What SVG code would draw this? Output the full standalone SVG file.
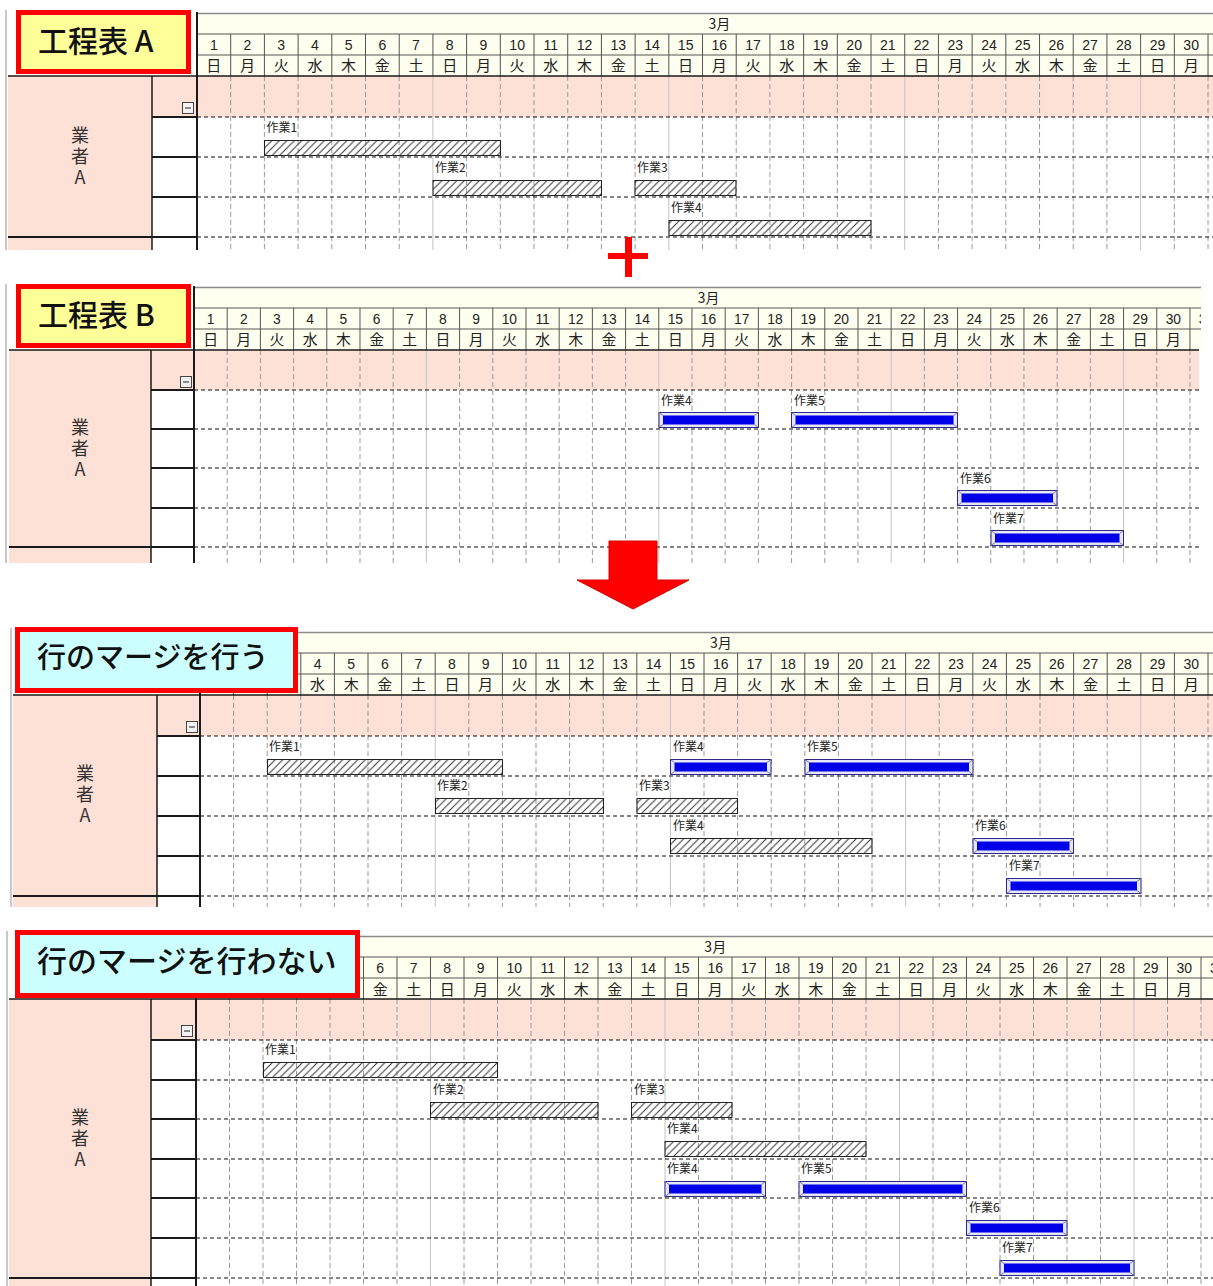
<svg xmlns="http://www.w3.org/2000/svg" width="1213" height="1286" viewBox="0 0 1213 1286">
<style>
.ttl{font-family:"Noto Sans CJK JP","Noto Sans",sans-serif;fill:#111;font-weight:500}
.tby{fill:#ffff99;stroke:#ff0000;stroke-width:5}
.tbc{fill:#ccffff;stroke:#ff0000;stroke-width:5}
.pk{fill:#fde0d6}
.dn{font-family:"Liberation Sans","Noto Sans CJK JP",sans-serif;font-size:14px;fill:#222;text-anchor:middle}
.mo{font-family:"Noto Sans CJK JP",sans-serif;font-size:14px;fill:#222;text-anchor:middle}
.wd{font-family:"Noto Sans CJK JP",sans-serif;font-size:15px;fill:#222;text-anchor:middle}
.lb{font-family:"Noto Sans CJK JP",sans-serif;font-size:12px;fill:#222}
.vn{font-family:"Noto Sans CJK JP",sans-serif;font-size:18px;fill:#333;writing-mode:vertical-rl;text-orientation:upright;letter-spacing:3px;text-anchor:start}
.rd{fill:none;stroke:#111;stroke-width:1.2;stroke-dasharray:4 3}
.sk{fill:none;stroke:#1a1a1a;stroke-width:2}
.tk{fill:none;stroke:#1a1a1a;stroke-width:1.5}
.gb{fill:none;stroke:#c8c8c8;stroke-width:2}
.hat{fill:url(#hatch);stroke:#222;stroke-width:1}
.bo{fill:#e6e6f6;stroke:#2b2b86;stroke-width:1}
.bi{fill:#0000e8}
.bv{fill:none;stroke:#5c5ca8;stroke-width:0.8}
</style>
<defs>
<pattern id="hatch" patternUnits="userSpaceOnUse" width="7.5" height="7.5">
<path d="M-1 1L1-1M0 7.5L7.5 0M6.5 8.5L8.5 6.5" stroke="#333" stroke-width="1"/>
</pattern>
<g id="hdrbg">
<rect width="1040" height="63" fill="#fffff0"/>
<path d="M0 0.5H1040" stroke="#8a8a8a" stroke-width="1.5"/>
<path d="M0 21H1040M0 42H1040" stroke="#555"/>
<path d="M33.5 21V63M67 21V63M100.5 21V63M134 21V63M167.5 21V63M201 21V63M234.5 21V63M268 21V63M301.5 21V63M335 21V63M368.5 21V63M402 21V63M435.5 21V63M469 21V63M502.5 21V63M536 21V63M569.5 21V63M603 21V63M636.5 21V63M670 21V63M703.5 21V63M737 21V63M770.5 21V63M804 21V63M837.5 21V63M871 21V63M904.5 21V63M938 21V63M971.5 21V63M1005 21V63M1038.5 21V63" stroke="#555"/>
</g>
<g id="vg">
<path d="M33.5 0V290M67 0V290M100.5 0V290M134 0V290M167.5 0V290M201 0V290M268 0V290M301.5 0V290M335 0V290M368.5 0V290M402 0V290M435.5 0V290M502.5 0V290M536 0V290M569.5 0V290M603 0V290M636.5 0V290M670 0V290M737 0V290M770.5 0V290M804 0V290M837.5 0V290M871 0V290M904.5 0V290M971.5 0V290M1005 0V290M1038.5 0V290" stroke="#9a9a9a" stroke-dasharray="5 3"/>
<path d="M234.5 0V290M469 0V290M703.5 0V290M938 0V290" stroke="#c4c4c4"/>
</g>
<g id="tog"><rect x="0.5" y="0.5" width="11" height="11" fill="#f2f2f2" stroke="#444"/><path d="M3 6H9" stroke="#222"/></g>
<clipPath id="cA"><rect x="197" y="76" width="1016" height="174"/></clipPath>
<clipPath id="cB"><rect x="194" y="350" width="1005" height="213"/></clipPath>
<clipPath id="cBh"><rect x="194" y="280" width="1007" height="80"/></clipPath>
<clipPath id="cC"><rect x="200" y="695" width="1013" height="212"/></clipPath>
</defs>

<g id="chartA">
<path class="gb" d="M6 10V250"/>
<rect class="pk" x="8" y="76" width="144" height="174"/>
<rect class="pk" x="152" y="76" width="1061" height="41"/>
<g transform="translate(197 13) scale(1.006 1)">
<use href="#hdrbg"/>
<text class="mo" x="519.25" y="16">3月</text>
<text class="dn" y="37"><tspan x="16.75">1</tspan><tspan x="50.25">2</tspan><tspan x="83.75">3</tspan><tspan x="117.25">4</tspan><tspan x="150.75">5</tspan><tspan x="184.25">6</tspan><tspan x="217.75">7</tspan><tspan x="251.25">8</tspan><tspan x="284.75">9</tspan><tspan x="318.25">10</tspan><tspan x="351.75">11</tspan><tspan x="385.25">12</tspan><tspan x="418.75">13</tspan><tspan x="452.25">14</tspan><tspan x="485.75">15</tspan><tspan x="519.25">16</tspan><tspan x="552.75">17</tspan><tspan x="586.25">18</tspan><tspan x="619.75">19</tspan><tspan x="653.25">20</tspan><tspan x="686.75">21</tspan><tspan x="720.25">22</tspan><tspan x="753.75">23</tspan><tspan x="787.25">24</tspan><tspan x="820.75">25</tspan><tspan x="854.25">26</tspan><tspan x="887.75">27</tspan><tspan x="921.25">28</tspan><tspan x="954.75">29</tspan><tspan x="988.25">30</tspan></text>
<text class="wd" y="58.5" x="16.75 50.25 83.75 117.25 150.75 184.25 217.75 251.25 284.75 318.25 351.75 385.25 418.75 452.25 485.75 519.25 552.75 586.25 619.75 653.25 686.75 720.25 753.75 787.25 820.75 854.25 887.75 921.25 954.75 988.25">日月火水木金土日月火水木金土日月火水木金土日月火水木金土日月</text>
</g>
<g clip-path="url(#cA)"><use href="#vg" transform="translate(197 76) scale(1.006 1)"/></g>
<path class="rd" d="M197 117H1213M197 157H1213M197 197H1213M197 237H1213"/>
<path class="sk" d="M152 117H197M152 157H197M152 197H197M8 237H197"/>
<path class="tk" d="M8 76H1213M152 76V250"/>
<path class="sk" d="M197 12V250"/>
<use href="#tog" x="182" y="102"/>
<text class="vn" x="80" y="126">業者A</text>
<rect class="hat" x="264.5" y="140.5" width="236" height="15"/>
<text class="lb" x="266.5" y="132">作業1</text>
<rect class="hat" x="433" y="180.5" width="168.5" height="15"/>
<text class="lb" x="435" y="172">作業2</text>
<rect class="hat" x="635" y="180.5" width="101" height="15"/>
<text class="lb" x="637" y="172">作業3</text>
<rect class="hat" x="669" y="220.5" width="202" height="15"/>
<text class="lb" x="671" y="212">作業4</text>
<rect class="tby" x="18.5" y="12.5" width="170" height="59"/>
<text class="ttl" x="38" y="52" font-size="30">工程表 A</text>
</g>

<g id="chartB">
<path class="gb" d="M6 284V563"/>
<rect class="pk" x="9" y="350" width="142" height="213"/>
<rect class="pk" x="151" y="350" width="1048" height="40"/>
<g clip-path="url(#cBh)"><g transform="translate(194 287) scale(0.991 1)">
<use href="#hdrbg"/>
<text class="mo" x="519.25" y="16">3月</text>
<text class="dn" y="37"><tspan x="16.75">1</tspan><tspan x="50.25">2</tspan><tspan x="83.75">3</tspan><tspan x="117.25">4</tspan><tspan x="150.75">5</tspan><tspan x="184.25">6</tspan><tspan x="217.75">7</tspan><tspan x="251.25">8</tspan><tspan x="284.75">9</tspan><tspan x="318.25">10</tspan><tspan x="351.75">11</tspan><tspan x="385.25">12</tspan><tspan x="418.75">13</tspan><tspan x="452.25">14</tspan><tspan x="485.75">15</tspan><tspan x="519.25">16</tspan><tspan x="552.75">17</tspan><tspan x="586.25">18</tspan><tspan x="619.75">19</tspan><tspan x="653.25">20</tspan><tspan x="686.75">21</tspan><tspan x="720.25">22</tspan><tspan x="753.75">23</tspan><tspan x="787.25">24</tspan><tspan x="820.75">25</tspan><tspan x="854.25">26</tspan><tspan x="887.75">27</tspan><tspan x="921.25">28</tspan><tspan x="954.75">29</tspan><tspan x="988.25">30</tspan><tspan x="1021.75">31</tspan></text>
<text class="wd" y="58.5" x="16.75 50.25 83.75 117.25 150.75 184.25 217.75 251.25 284.75 318.25 351.75 385.25 418.75 452.25 485.75 519.25 552.75 586.25 619.75 653.25 686.75 720.25 753.75 787.25 820.75 854.25 887.75 921.25 954.75 988.25">日月火水木金土日月火水木金土日月火水木金土日月火水木金土日月</text>
</g></g>
<g clip-path="url(#cB)"><use href="#vg" transform="translate(194 350) scale(0.991 1)"/></g>
<path class="rd" d="M194 390H1199M194 429H1199M194 468H1199M194 508H1199M194 547H1199"/>
<path class="sk" d="M151 390H194M151 429H194M151 468H194M151 508H194M9 547H194"/>
<path class="tk" d="M9 350H1199M151 350V563"/>
<path class="sk" d="M194 286V563"/>
<use href="#tog" x="180" y="376"/>
<text class="vn" x="80" y="418">業者A</text>
<rect class="bo" x="659" y="412.5" width="99.5" height="15"/><rect class="bi" x="663" y="415.5" width="91.5" height="9"/><path class="bv" d="M659 412.5l4 3M758.5 412.5l-4 3M659 427.5l4-3M758.5 427.5l-4-3"/>
<text class="lb" x="661" y="404.5">作業4</text>
<rect class="bo" x="791.5" y="412.5" width="166" height="15"/><rect class="bi" x="795.5" y="415.5" width="158" height="9"/><path class="bv" d="M791.5 412.5l4 3M957.5 412.5l-4 3M791.5 427.5l4-3M957.5 427.5l-4-3"/>
<text class="lb" x="794" y="404.5">作業5</text>
<rect class="bo" x="957.5" y="490.5" width="99.5" height="15"/><rect class="bi" x="961.5" y="493.5" width="91.5" height="9"/><path class="bv" d="M957.5 490.5l4 3M1057 490.5l-4 3M957.5 505.5l4-3M1057 505.5l-4-3"/>
<text class="lb" x="960" y="482.5">作業6</text>
<rect class="bo" x="991" y="530.5" width="132.5" height="15"/><rect class="bi" x="995" y="533.5" width="124.5" height="9"/><path class="bv" d="M991 530.5l4 3M1123.5 530.5l-4 3M991 545.5l4-3M1123.5 545.5l-4-3"/>
<text class="lb" x="993" y="522.5">作業7</text>
<rect class="tby" x="18.5" y="286.5" width="170" height="59"/>
<text class="ttl" x="38" y="326" font-size="30">工程表 B</text>
</g>

<g id="chartC">
<path class="gb" d="M11 628V907"/>
<rect class="pk" x="13" y="695" width="144" height="212"/>
<rect class="pk" x="157" y="695" width="1056" height="41"/>
<g transform="translate(200 632) scale(1.003 1)">
<use href="#hdrbg"/>
<text class="mo" x="519.25" y="16">3月</text>
<text class="dn" y="37"><tspan x="117.25">4</tspan><tspan x="150.75">5</tspan><tspan x="184.25">6</tspan><tspan x="217.75">7</tspan><tspan x="251.25">8</tspan><tspan x="284.75">9</tspan><tspan x="318.25">10</tspan><tspan x="351.75">11</tspan><tspan x="385.25">12</tspan><tspan x="418.75">13</tspan><tspan x="452.25">14</tspan><tspan x="485.75">15</tspan><tspan x="519.25">16</tspan><tspan x="552.75">17</tspan><tspan x="586.25">18</tspan><tspan x="619.75">19</tspan><tspan x="653.25">20</tspan><tspan x="686.75">21</tspan><tspan x="720.25">22</tspan><tspan x="753.75">23</tspan><tspan x="787.25">24</tspan><tspan x="820.75">25</tspan><tspan x="854.25">26</tspan><tspan x="887.75">27</tspan><tspan x="921.25">28</tspan><tspan x="954.75">29</tspan><tspan x="988.25">30</tspan></text>
<text class="wd" y="58.5" x="117.25 150.75 184.25 217.75 251.25 284.75 318.25 351.75 385.25 418.75 452.25 485.75 519.25 552.75 586.25 619.75 653.25 686.75 720.25 753.75 787.25 820.75 854.25 887.75 921.25 954.75 988.25">水木金土日月火水木金土日月火水木金土日月火水木金土日月</text>
</g>
<g clip-path="url(#cC)"><use href="#vg" transform="translate(200 695) scale(1.003 1)"/></g>
<path class="rd" d="M200 736H1213M200 776H1213M200 816H1213M200 856H1213M200 896H1213"/>
<path class="sk" d="M157 736H200M157 776H200M157 816H200M157 856H200M13 896H200"/>
<path class="tk" d="M13 695H1213M157 695V907"/>
<path class="sk" d="M200 632V907"/>
<use href="#tog" x="186" y="721"/>
<text class="vn" x="85" y="764">業者A</text>
<rect class="hat" x="267.5" y="759.5" width="235" height="15"/>
<text class="lb" x="269" y="751">作業1</text>
<rect class="bo" x="670.5" y="759.5" width="100.5" height="15"/><rect class="bi" x="674.5" y="762.5" width="92.5" height="9"/><path class="bv" d="M670.5 759.5l4 3M771 759.5l-4 3M670.5 774.5l4-3M771 774.5l-4-3"/>
<text class="lb" x="673" y="751">作業4</text>
<rect class="bo" x="805" y="759.5" width="168" height="15"/><rect class="bi" x="809" y="762.5" width="160" height="9"/><path class="bv" d="M805 759.5l4 3M973 759.5l-4 3M805 774.5l4-3M973 774.5l-4-3"/>
<text class="lb" x="807" y="751">作業5</text>
<rect class="hat" x="435.5" y="798.5" width="168" height="15"/>
<text class="lb" x="437" y="790">作業2</text>
<rect class="hat" x="637" y="798.5" width="100.5" height="15"/>
<text class="lb" x="639" y="790">作業3</text>
<rect class="hat" x="670.5" y="838.5" width="201.5" height="15"/>
<text class="lb" x="673" y="830">作業4</text>
<rect class="bo" x="973" y="838.5" width="100.5" height="15"/><rect class="bi" x="977" y="841.5" width="92.5" height="9"/><path class="bv" d="M973 838.5l4 3M1073.5 838.5l-4 3M973 853.5l4-3M1073.5 853.5l-4-3"/>
<text class="lb" x="975" y="830">作業6</text>
<rect class="bo" x="1006.5" y="878.5" width="134.5" height="15"/><rect class="bi" x="1010.5" y="881.5" width="126.5" height="9"/><path class="bv" d="M1006.5 878.5l4 3M1141 878.5l-4 3M1006.5 893.5l4-3M1141 893.5l-4-3"/>
<text class="lb" x="1009" y="870">作業7</text>
<rect class="tbc" x="17.5" y="629.5" width="278" height="61"/>
<text class="ttl" x="37" y="668" font-size="29">行のマージを行う</text>
</g>

<g id="chartD">
<path class="gb" d="M7 931V1286"/>
<rect class="pk" x="9" y="999" width="142" height="287"/>
<rect class="pk" x="151" y="999" width="1062" height="41"/>
<g transform="translate(196 936)">
<use href="#hdrbg"/>
<text class="mo" x="519.25" y="16">3月</text>
<text class="dn" y="37"><tspan x="184.25">6</tspan><tspan x="217.75">7</tspan><tspan x="251.25">8</tspan><tspan x="284.75">9</tspan><tspan x="318.25">10</tspan><tspan x="351.75">11</tspan><tspan x="385.25">12</tspan><tspan x="418.75">13</tspan><tspan x="452.25">14</tspan><tspan x="485.75">15</tspan><tspan x="519.25">16</tspan><tspan x="552.75">17</tspan><tspan x="586.25">18</tspan><tspan x="619.75">19</tspan><tspan x="653.25">20</tspan><tspan x="686.75">21</tspan><tspan x="720.25">22</tspan><tspan x="753.75">23</tspan><tspan x="787.25">24</tspan><tspan x="820.75">25</tspan><tspan x="854.25">26</tspan><tspan x="887.75">27</tspan><tspan x="921.25">28</tspan><tspan x="954.75">29</tspan><tspan x="988.25">30</tspan></text>
<text class="dn" x="1021.75" y="37">31</text>
<text class="wd" y="58.5" x="184.25 217.75 251.25 284.75 318.25 351.75 385.25 418.75 452.25 485.75 519.25 552.75 586.25 619.75 653.25 686.75 720.25 753.75 787.25 820.75 854.25 887.75 921.25 954.75 988.25">金土日月火水木金土日月火水木金土日月火水木金土日月</text>
</g>
<use href="#vg" transform="translate(196 999)"/>
<path class="rd" d="M196 1040H1213M196 1080H1213M196 1119H1213M196 1159H1213M196 1198H1213M196 1238H1213M196 1278H1213"/>
<path class="sk" d="M151 1040H196M151 1080H196M151 1119H196M151 1159H196M151 1198H196M151 1238H196M9 1278H196"/>
<path class="tk" d="M9 999H1213M151 999V1286"/>
<path class="sk" d="M196 936V1286"/>
<use href="#tog" x="181" y="1025"/>
<text class="vn" x="80" y="1108">業者A</text>
<rect class="hat" x="263.5" y="1062.5" width="234" height="15"/>
<text class="lb" x="265" y="1054">作業1</text>
<rect class="hat" x="430.5" y="1102.5" width="167.5" height="15"/>
<text class="lb" x="433" y="1094">作業2</text>
<rect class="hat" x="631.5" y="1102.5" width="100.5" height="15"/>
<text class="lb" x="634" y="1094">作業3</text>
<rect class="hat" x="665" y="1141.5" width="201" height="15"/>
<text class="lb" x="667" y="1133">作業4</text>
<rect class="bo" x="665" y="1181.5" width="100.5" height="15"/><rect class="bi" x="669" y="1184.5" width="92.5" height="9"/><path class="bv" d="M665 1181.5l4 3M765.5 1181.5l-4 3M665 1196.5l4-3M765.5 1196.5l-4-3"/>
<text class="lb" x="667" y="1173">作業4</text>
<rect class="bo" x="799" y="1181.5" width="167.5" height="15"/><rect class="bi" x="803" y="1184.5" width="159.5" height="9"/><path class="bv" d="M799 1181.5l4 3M966.5 1181.5l-4 3M799 1196.5l4-3M966.5 1196.5l-4-3"/>
<text class="lb" x="801" y="1173">作業5</text>
<rect class="bo" x="966.5" y="1220.5" width="100.5" height="15"/><rect class="bi" x="970.5" y="1223.5" width="92.5" height="9"/><path class="bv" d="M966.5 1220.5l4 3M1067 1220.5l-4 3M966.5 1235.5l4-3M1067 1235.5l-4-3"/>
<text class="lb" x="969" y="1212">作業6</text>
<rect class="bo" x="1000" y="1260.5" width="134" height="15"/><rect class="bi" x="1004" y="1263.5" width="126" height="9"/><path class="bv" d="M1000 1260.5l4 3M1134 1260.5l-4 3M1000 1275.5l4-3M1134 1275.5l-4-3"/>
<text class="lb" x="1002" y="1252">作業7</text>
<rect class="tbc" x="17.5" y="932.5" width="340" height="63"/>
<text class="ttl" x="37" y="972" font-size="30">行のマージを行わない</text>
</g>

<g id="connectors">
<g id="plus"><rect x="608" y="253" width="40" height="6" fill="#ff0000"/><rect x="625" y="237" width="7" height="40" fill="#ff0000"/></g>
<polygon id="arrow" points="609,541 657,541 657,580 689,580 633,609 577,580 609,580" fill="#ff0000" stroke="#d40000"/>
</g>
</svg>
